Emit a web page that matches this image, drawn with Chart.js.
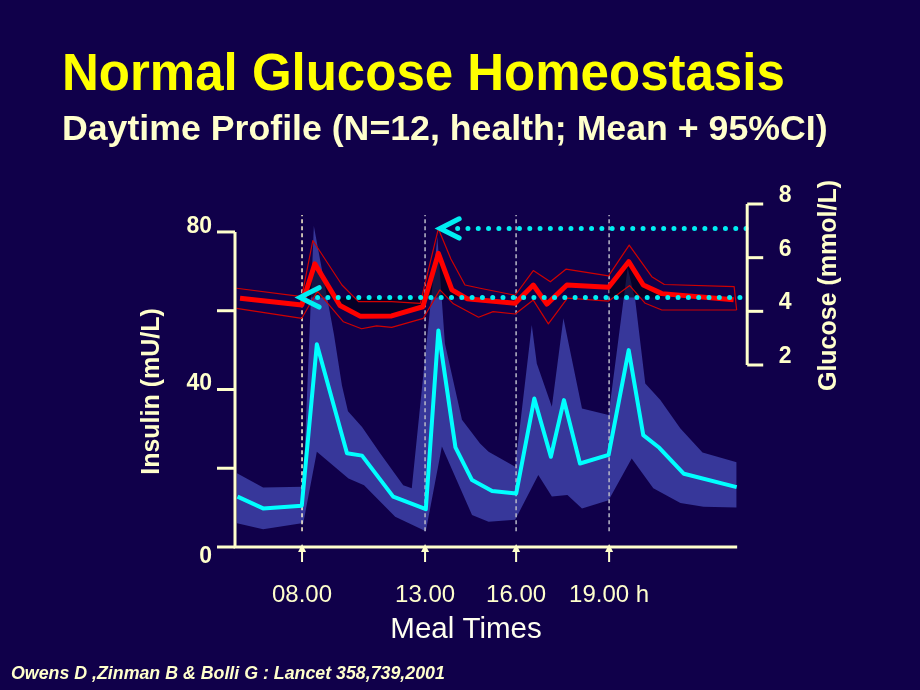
<!DOCTYPE html>
<html lang="en">
<head>
  <meta charset="UTF-8" />
  <title>Normal Glucose Homeostasis</title>
  <script src="https://cdn.jsdelivr.net/npm/chart.js"></script>
  <style>
    body { margin: 0; background: #10004a; font-family: "Liberation Sans", Arial, sans-serif; }
    .slide { position: relative; width: 920px; height: 690px; overflow: hidden; background: #10004a; }
    .slide canvas { position: absolute; left: 0; top: 0; }
    .slide h1, .slide h2, .slide p { position: absolute; margin: 0; white-space: nowrap; font-weight: bold; }
    .slide h1 { left: 62px; top: 47px; font-size: 51px; line-height: 51px; color: #ffff00; }
    .slide h2 { left: 62px; top: 110px; font-size: 35.7px; line-height: 36px; color: #ffffcc; }
    .slide p { left: 11px; top: 664px; font-size: 17.8px; line-height: 18px; font-style: italic; color: #ffffcc; }
  </style>
</head>
<body>
  <div class="slide">
    <canvas id="chart" width="920" height="690"></canvas>
    <h1>Normal Glucose Homeostasis</h1>
    <h2>Daytime Profile (N=12, health; Mean + 95%CI)</h2>
    <p>Owens D ,Zinman B &amp; Bolli G : Lancet 358,739,2001</p>
  </div>

  <script>
    // time runs along the plotted day, 0 = left end of the axis, 100 = right end
    // (the original slide is not to scale between meals)
    const mealTimes = [13.35, 37.85, 55.98, 74.5];
    const mealLabels = ['08.00', '13.00', '16.00', '19.00 h'];

    const insulinTicks = [0, 20, 40, 60, 80];
    const insulinLabels = [0, 40, 80];
    const glucoseTicks = [2, 4, 6, 8];

    // insulin (mU/L), mean and 95% CI
    const insulinTime = [0.5, 5.6, 13.3, 16.3, 22.3, 25.3, 31.5, 38.0, 40.5, 43.9, 47.2, 51.2, 56.0, 59.6, 62.9, 65.5, 68.7, 74.4, 78.4, 81.3, 84.5, 89.4, 99.9];
    const insulinMean = [12.8, 9.8, 10.5, 51.5, 23.8, 23.2, 12.8, 9.6, 55.0, 25.3, 17.0, 14.2, 13.6, 37.7, 22.9, 37.3, 21.2, 23.4, 50.0, 28.4, 25.2, 18.6, 15.2];

    const insulinHiTime = [0.4, 5.6, 13.6, 15.7, 19.7, 21.3, 22.5, 25.3, 28.9, 33.5, 35.2, 40.3, 41.8, 45.2, 48.8, 50.5, 55.8, 59.1, 60.1, 63.1, 65.4, 69.1, 74.4, 78.2, 79.7, 81.7, 84.7, 88.7, 93.1, 99.9];
    const insulinHi = [18.7, 15.1, 15.3, 81.5, 54.0, 41.0, 34.5, 30.5, 23.8, 15.7, 14.9, 78.8, 51.7, 32.3, 26.3, 24.2, 20.4, 56.4, 46.6, 35.6, 58.1, 35.2, 33.5, 71.0, 62.7, 41.5, 37.3, 30.1, 24.0, 21.5];

    const insulinLoTime = [0.4, 5.6, 13.6, 16.3, 22.6, 25.7, 31.9, 38.0, 41.2, 47.2, 50.5, 55.8, 60.4, 63.1, 66.2, 69.1, 74.4, 79.0, 83.3, 88.7, 93.3, 99.9];
    const insulinLo = [6.0, 4.5, 6.1, 24.2, 17.4, 15.7, 7.7, 4.0, 25.5, 8.1, 6.4, 6.9, 18.3, 12.8, 13.2, 9.8, 11.9, 22.5, 14.9, 11.2, 10.2, 10.0];

    // glucose (mmol/L), mean and 95% CI
    const glucoseTime = [1.0, 13.3, 15.9, 20.9, 24.9, 31.2, 37.4, 40.5, 43.2, 46.2, 48.8, 55.8, 59.4, 62.1, 66.1, 74.4, 78.4, 81.3, 85.0, 99.3];
    const glucoseMean = [4.49, 4.24, 5.77, 4.22, 3.82, 3.83, 4.17, 6.16, 4.80, 4.47, 4.42, 4.30, 4.98, 4.27, 4.98, 4.90, 5.85, 4.98, 4.66, 4.43];

    const glucoseHiTime = [0.3, 13.3, 15.5, 21.3, 24.6, 31.2, 36.9, 40.5, 43.0, 45.8, 48.8, 55.8, 59.4, 62.8, 65.9, 74.4, 78.5, 83.0, 85.5, 99.4, 99.9];
    const glucoseHi = [4.86, 4.55, 6.64, 4.98, 4.36, 4.36, 4.30, 7.08, 5.95, 4.98, 4.86, 4.60, 5.52, 5.10, 5.57, 5.32, 6.47, 5.29, 5.00, 4.92, 4.05];

    const glucoseLoTime = [0.3, 13.3, 16.4, 21.6, 25.2, 28.2, 31.2, 37.5, 40.8, 43.5, 48.5, 51.4, 55.8, 59.4, 62.4, 66.2, 74.4, 78.6, 81.7, 85.0, 99.9];
    const glucoseLo = [4.11, 3.74, 4.75, 3.61, 3.35, 3.46, 3.40, 3.74, 4.80, 4.28, 3.78, 3.99, 3.90, 4.42, 3.53, 4.49, 4.38, 4.96, 4.30, 4.05, 4.05];

    // dotted reference levels with their arrow tips, and the shaded rises above basal
    const glucoseRefLevel = [4.52, 7.09];
    const glucoseRefTip = [12.95, 40.84];
    const basalGlucose = 4.52;
    const riseSpans = [[13.2, 48.9], [74.3, 85.1]];

    const cream = '#ffffcc';
    const font = '"Liberation Sans", Arial, sans-serif';

    const pts = (xs, ys) => xs.map((x, i) => ({ x, y: ys[i] }));

    const datasets = [
      { label: 'Insulin CI upper', data: pts(insulinHiTime, insulinHi), borderWidth: 0, backgroundColor: '#37379a', fill: 1, order: 10 },
      { label: 'Insulin CI lower', data: pts(insulinLoTime, insulinLo), borderWidth: 0, fill: false, order: 10 }
    ];

    // meal markers
    mealTimes.forEach((m, i) => {
      datasets.push({
        label: 'meal ' + mealLabels[i],
        data: [{ x: m, y: 4 }, { x: m, y: 84.3 }],
        borderColor: i === 0 ? '#fff6d0' : '#b8b8c8',
        borderWidth: 1.5, borderDash: [4, 3], order: 9
      });
    });

    datasets.push({ label: 'Insulin mean', data: pts(insulinTime, insulinMean), borderColor: '#00ffff', borderWidth: 4, order: 8 });

    const riseData = glucoseTime.map((x, i) => ({
      x, y: riseSpans.some(([a, b]) => x >= a && x <= b) ? glucoseMean[i] : null
    }));
    datasets.push({ label: 'Glucose rise', data: riseData, yAxisID: 'y2', borderWidth: 0, backgroundColor: 'rgba(0,0,16,0.6)', fill: { value: basalGlucose }, order: 7 });

    datasets.push({ label: 'Glucose CI upper', data: pts(glucoseHiTime, glucoseHi), yAxisID: 'y2', borderColor: '#d00000', borderWidth: 1.2, order: 6 });
    datasets.push({ label: 'Glucose CI lower', data: pts(glucoseLoTime, glucoseLo), yAxisID: 'y2', borderColor: '#d00000', borderWidth: 1.2, order: 6 });
    datasets.push({ label: 'Glucose mean', data: pts(glucoseTime, glucoseMean), yAxisID: 'y2', borderColor: '#ff0000', borderWidth: 5, order: 5 });

    glucoseRefLevel.forEach((lv, i) => {
      const tip = glucoseRefTip[i];
      datasets.push({
        label: 'ref dots ' + lv,
        data: [{ x: tip + 3.5, y: lv }, { x: 102, y: lv }],
        yAxisID: 'y2', borderColor: '#00eef2', borderWidth: 5,
        borderDash: [0, 10.3], borderCapStyle: 'round', order: 4
      });
      datasets.push({
        label: 'ref arrow ' + lv,
        data: [{ x: tip + 3.8, y: lv + 0.36 }, { x: tip, y: lv }, { x: tip + 3.8, y: lv - 0.36 }],
        yAxisID: 'y2', borderColor: '#00eef2', borderWidth: 5,
        borderCapStyle: 'round', borderJoinStyle: 'miter', order: 3
      });
    });

    // axes drawn the way the slide has them, positioned by the chart's scales
    const slideAxes = {
      id: 'slideAxes',
      afterDatasetsDraw(chart) {
        const { ctx, scales: { x, y, y2 } } = chart;
        const xl = x.getPixelForValue(0);
        const xe = x.getPixelForValue(100);
        const xr = x.getPixelForValue(102);
        const y0 = y.getPixelForValue(0);
        const yTop = y.getPixelForValue(insulinTicks[insulinTicks.length - 1]);

        ctx.save();
        ctx.strokeStyle = cream;
        ctx.fillStyle = cream;
        ctx.lineWidth = 3;

        ctx.beginPath();
        ctx.moveTo(xl, yTop);
        ctx.lineTo(xl, y0);
        ctx.lineTo(xe, y0);
        ctx.stroke();
        insulinTicks.forEach(v => {
          const py = y.getPixelForValue(v);
          ctx.beginPath(); ctx.moveTo(xl - 18, py); ctx.lineTo(xl, py); ctx.stroke();
        });
        ctx.font = 'bold 23px ' + font;
        ctx.textAlign = 'right';
        ctx.textBaseline = 'alphabetic';
        insulinLabels.forEach(v => {
          ctx.fillText(String(v), xl - 23, y.getPixelForValue(v) + (v === 0 ? 16 : 1));
        });

        // glucose axis
        const g0 = y2.getPixelForValue(glucoseTicks[0]);
        const g1 = y2.getPixelForValue(glucoseTicks[glucoseTicks.length - 1]);
        ctx.beginPath(); ctx.moveTo(xr, g0); ctx.lineTo(xr, g1); ctx.stroke();
        ctx.textAlign = 'center';
        glucoseTicks.forEach(v => {
          const py = y2.getPixelForValue(v);
          ctx.beginPath(); ctx.moveTo(xr, py); ctx.lineTo(xr + 16, py); ctx.stroke();
          ctx.fillText(String(v), xr + 38, py - 2);
        });

        // meal arrows and time labels
        ctx.lineWidth = 2;
        ctx.font = '24px ' + font;
        mealTimes.forEach((m, i) => {
          const px = x.getPixelForValue(m);
          ctx.beginPath(); ctx.moveTo(px, y0 + 3); ctx.lineTo(px, y0 + 15); ctx.stroke();
          ctx.beginPath();
          ctx.moveTo(px, y0 - 3); ctx.lineTo(px - 4, y0 + 5); ctx.lineTo(px + 4, y0 + 5);
          ctx.closePath(); ctx.fill();
          ctx.fillText(mealLabels[i], px, y0 + 55);
        });
        ctx.fillStyle = '#fffff0';
        ctx.font = '29.5px ' + font;
        ctx.fillText('Meal Times', x.getPixelForValue(46), y0 + 91);

        // rotated axis titles
        ctx.fillStyle = cream;
        ctx.font = 'bold 25px ' + font;
        ctx.textBaseline = 'middle';
        ctx.save();
        ctx.translate(xl - 83, (yTop + y0) / 2 + 2);
        ctx.rotate(-Math.PI / 2);
        ctx.fillText('Insulin (mU/L)', 0, 0);
        ctx.restore();
        ctx.save();
        ctx.translate(xr + 82, (g0 + g1) / 2 + 1);
        ctx.rotate(-Math.PI / 2);
        ctx.fillText('Glucose (mmol/L)', 0, 0);
        ctx.restore();

        ctx.restore();
      }
    };

    new Chart(document.getElementById('chart').getContext('2d'), {
      type: 'line',
      data: { datasets },
      options: {
        responsive: false,
        animation: false,
        events: [],
        clip: false,
        layout: { padding: { left: 235, right: 172.8, top: 204, bottom: 143 } },
        elements: {
          point: { radius: 0 },
          line: { tension: 0, borderJoinStyle: 'round', borderCapStyle: 'butt' }
        },
        scales: {
          x: { type: 'linear', min: 0, max: 102, display: false },
          y: { min: 0, max: 87.1, display: false },
          y2: { position: 'right', min: -4.783, max: 8, display: false }
        },
        plugins: { legend: { display: false }, tooltip: { enabled: false } }
      },
      plugins: [slideAxes]
    });
  </script>
</body>
</html>
